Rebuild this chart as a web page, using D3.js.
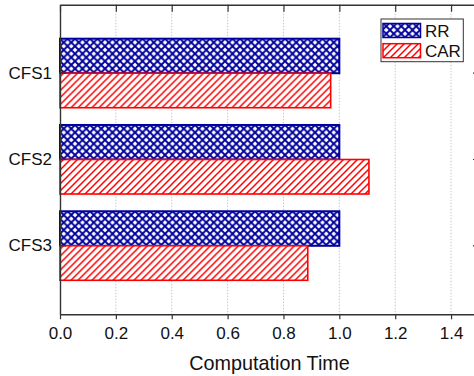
<!DOCTYPE html>
<html>
<head>
<meta charset="utf-8">
<script src="https://cdn.jsdelivr.net/npm/d3@7"></script>
<style>
  body { margin: 0; background: #fff; }
  text { font-family: Arial, "Liberation Sans", sans-serif; }
</style>
</head>
<body>
<div class="chart"></div>
<script>
const categories = ["CFS1", "CFS2", "CFS3"];
const seriesNames = ["RR", "CAR"];
const rrValues = [1.0, 1.0, 1.0];
const carValues = [0.969, 1.106, 0.887];
const xTicks = [0.0, 0.2, 0.4, 0.6, 0.8, 1.0, 1.2, 1.4];
const xTitle = "Computation Time";

const dimensions = {
    width: 474,
    height: 376,
    margin: { left: 60, top: 4.7, right: -5, bottom: 61.7 }
};
const colors = { RR: "#00009c", CAR: "#ff0000" };

const svg = d3.select(".chart").append("svg")
    .attr("width", dimensions.width)
    .attr("height", dimensions.height);

// hatch fills
const defs = svg.append("defs");
const cs = 7.5;
const cross = defs.append("pattern").attr("id", "hatch-RR")
    .attr("patternUnits", "userSpaceOnUse").attr("width", cs).attr("height", cs);
cross.append("rect").attr("width", cs).attr("height", cs).attr("fill", "#fff");
cross.append("path")
    .attr("d", `M0,0L${cs},${cs}M0,${cs}L${cs},0`)
    .attr("stroke", colors.RR).attr("stroke-width", 1.9);
const ds = 7;
const diag = defs.append("pattern").attr("id", "hatch-CAR")
    .attr("patternUnits", "userSpaceOnUse").attr("width", ds).attr("height", ds);
diag.append("rect").attr("width", ds).attr("height", ds).attr("fill", "#fff");
diag.append("path")
    .attr("d", `M0,${ds}L${ds},0M-1,1L1,-1M${ds - 1},${ds + 1}L${ds + 1},${ds - 1}`)
    .attr("stroke", colors.CAR).attr("stroke-width", 1.5);

const x0 = dimensions.margin.left;
const x1 = dimensions.width - dimensions.margin.right;
const y0 = dimensions.margin.top;
const y1 = dimensions.height - dimensions.margin.bottom;

const x = d3.scaleLinear().domain([0, 1.5]).range([x0, x1]);
const y = d3.scaleBand().domain(categories).range([y0, y1])
    .paddingInner(0.2).paddingOuter(0.394);
const ySub = d3.scaleBand().domain(seriesNames).range([0, y.bandwidth()]);

const rows = categories.map((c, i) => ({ cat: c, RR: rrValues[i], CAR: carValues[i] }));

// grid
svg.append("g")
    .selectAll("line")
    .data(xTicks.filter(t => t > 0))
    .join("line")
    .attr("x1", d => x(d)).attr("x2", d => x(d))
    .attr("y1", y0).attr("y2", y1)
    .attr("stroke", "#c8c8c8")
    .attr("stroke-width", 1)
    .attr("stroke-dasharray", "1.5,1.5");

// bars
svg.append("g")
    .selectAll("g")
    .data(rows)
    .join("g")
    .attr("transform", d => `translate(0,${y(d.cat)})`)
    .selectAll("rect")
    .data(d => seriesNames.map(s => ({ s, v: d[s] })))
    .join("rect")
    .attr("x", x(0))
    .attr("y", d => ySub(d.s))
    .attr("width", d => x(d.v) - x(0))
    .attr("height", ySub.bandwidth())
    .attr("fill", d => `url(#hatch-${d.s})`)
    .attr("stroke", d => colors[d.s])
    .attr("stroke-width", d => d.s === "RR" ? 2 : 1.6);

const axisStyle = g => {
    g.select(".domain").attr("stroke", "#333").attr("stroke-width", 1.4);
    g.selectAll(".tick line").attr("stroke", "#333").attr("stroke-width", 1.2);
    g.selectAll(".tick text").style("font-size", "17px").attr("fill", "#111");
};

svg.append("g").attr("transform", `translate(0,${y1})`)
    .call(d3.axisBottom(x).tickValues(xTicks).tickFormat(d3.format(".1f"))
        .tickSizeInner(5).tickSizeOuter(0).tickPadding(7.5))
    .call(axisStyle);

svg.append("g").attr("transform", `translate(0,${y0})`)
    .call(d3.axisTop(x).tickValues(xTicks).tickFormat("")
        .tickSizeInner(-7).tickSizeOuter(0))
    .call(axisStyle);

svg.append("g").attr("transform", `translate(${x0},0)`)
    .call(d3.axisLeft(y).tickSizeInner(-6).tickSizeOuter(0).tickPadding(8))
    .call(axisStyle);

svg.append("g").attr("transform", `translate(${x1},0)`)
    .call(d3.axisRight(y).tickSizeInner(-6).tickSizeOuter(0).tickFormat(""))
    .call(axisStyle);

svg.append("text")
    .attr("x", (x0 + x1) / 2)
    .attr("y", 370)
    .attr("text-anchor", "middle")
    .style("font-size", "19.8px")
    .attr("fill", "#111")
    .text(xTitle);

// legend
const legend = svg.append("g");
legend.append("rect")
    .attr("x", 381).attr("y", 19).attr("width", 82.3).attr("height", 42.7)
    .attr("fill", "#fff").attr("stroke", "#333").attr("stroke-width", 1);
seriesNames.forEach((s, i) => {
    const ly = 23.5 + i * 20.2;
    legend.append("rect")
        .attr("x", 383).attr("y", ly).attr("width", 37.5).attr("height", 14)
        .attr("fill", `url(#hatch-${s})`)
        .attr("stroke", colors[s]).attr("stroke-width", 1.5);
    legend.append("text")
        .attr("x", 425).attr("y", ly + 13.3)
        .style("font-size", "17px")
        .attr("fill", "#111")
        .text(s);
});
</script>
</body>
</html>
